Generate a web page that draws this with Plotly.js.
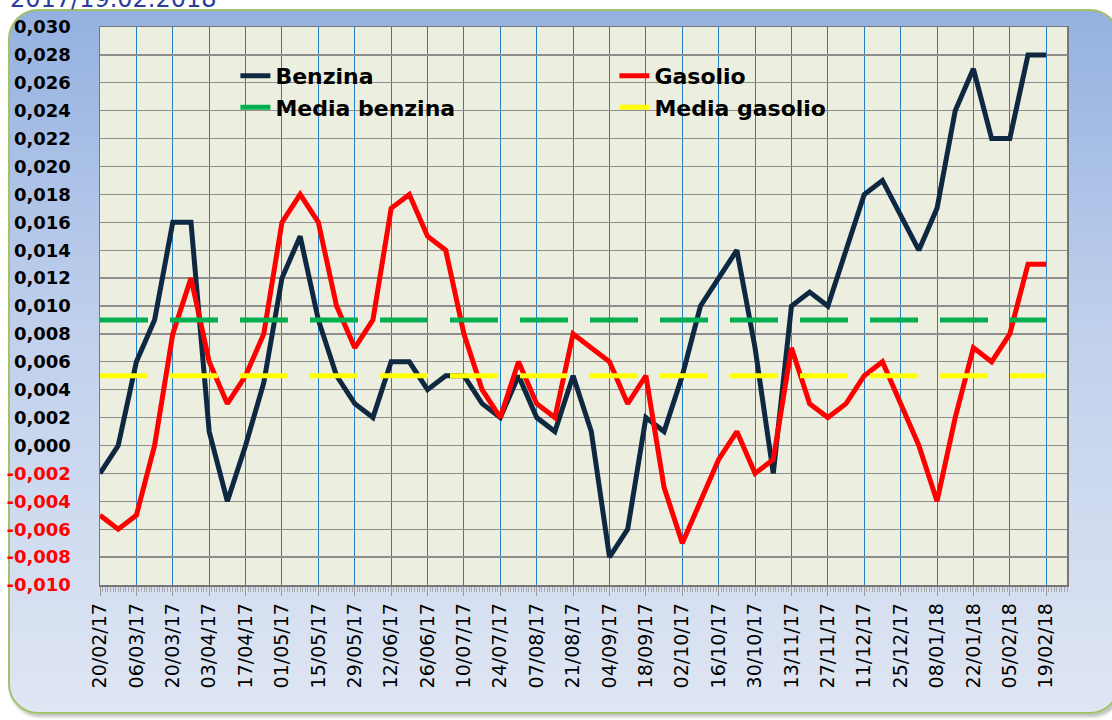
<!DOCTYPE html>
<html>
<head>
<meta charset="utf-8">
<script src="https://cdn.plot.ly/plotly-3.0.1.min.js"></script>
<style>
  html, body { margin: 0; padding: 0; background: #ffffff; width: 1112px; height: 720px; overflow: hidden; }
  #frame {
    position: absolute; left: 8px; top: 9px; width: 1112px; height: 705px;
    box-sizing: border-box;
    border: 2px solid #A3C06A; border-radius: 30px;
    background: linear-gradient(to bottom, #94B1E0 0%, #C0D0EC 45%, #DFE6F3 100%);
    box-shadow: 2px 3px 3px rgba(120,120,120,0.45);
  }
  #chart { position: absolute; left: 0; top: 0; width: 1112px; height: 720px; }
</style>
</head>
<body>
<div id="frame"></div>
<div id="chart"></div>
<script>
// ---- data ----
const dates = [
  '2017-02-20','2017-02-27','2017-03-06','2017-03-13','2017-03-20','2017-03-27',
  '2017-04-03','2017-04-10','2017-04-17','2017-04-24','2017-05-01','2017-05-08',
  '2017-05-15','2017-05-22','2017-05-29','2017-06-05','2017-06-12','2017-06-19',
  '2017-06-26','2017-07-03','2017-07-10','2017-07-17','2017-07-24','2017-07-31',
  '2017-08-07','2017-08-14','2017-08-21','2017-08-28','2017-09-04','2017-09-11',
  '2017-09-18','2017-09-25','2017-10-02','2017-10-09','2017-10-16','2017-10-23',
  '2017-10-30','2017-11-06','2017-11-13','2017-11-20','2017-11-27','2017-12-04',
  '2017-12-11','2017-12-18','2017-12-25','2018-01-01','2018-01-08','2018-01-15',
  '2018-01-22','2018-01-29','2018-02-05','2018-02-12','2018-02-19'
];
const benzina = [
  -0.002, 0.000, 0.006, 0.009, 0.016, 0.016, 0.001, -0.004, 0.000, 0.0045,
   0.012, 0.015, 0.009, 0.005, 0.003, 0.002, 0.006, 0.006, 0.004, 0.005,
   0.005, 0.003, 0.002, 0.005, 0.002, 0.001, 0.005, 0.001, -0.008, -0.006,
   0.002, 0.001, 0.005, 0.010, 0.012, 0.014, 0.007, -0.002, 0.010, 0.011,
   0.010, 0.014, 0.018, 0.019, 0.0165, 0.014, 0.017, 0.024, 0.027, 0.022,
   0.022, 0.028, 0.028
];
const gasolio = [
  -0.005, -0.006, -0.005, 0.000, 0.008, 0.012, 0.006, 0.003, 0.005, 0.008,
   0.016, 0.018, 0.016, 0.010, 0.007, 0.009, 0.017, 0.018, 0.015, 0.014,
   0.008, 0.004, 0.002, 0.006, 0.003, 0.002, 0.008, 0.007, 0.006, 0.003,
   0.005, -0.003, -0.007, -0.004, -0.001, 0.001, -0.002, -0.001, 0.007, 0.003,
   0.002, 0.003, 0.005, 0.006, 0.003, 0.000, -0.004, 0.002, 0.007, 0.006,
   0.008, 0.013, 0.013
];
const mediaBenzina = 0.009;
const mediaGasolio = 0.005;
const yTickVals = [-0.010,-0.008,-0.006,-0.004,-0.002,0.000,0.002,0.004,0.006,0.008,0.010,
                   0.012,0.014,0.016,0.018,0.020,0.022,0.024,0.026,0.028,0.030];
const yTickLabels = ['-0,010','-0,008','-0,006','-0,004','-0,002','0,000','0,002','0,004','0,006','0,008','0,010',
                     '0,012','0,014','0,016','0,018','0,020','0,022','0,024','0,026','0,028','0,030'];
const seriesNames = ['Benzina', 'Gasolio', 'Media benzina', 'Media gasolio'];
const headerText = '2017/19.02.2018';

// ---- build ----
const firstDate = dates[0], lastDate = dates[dates.length - 1];
const yTickText = yTickLabels.map((t, i) =>
  yTickVals[i] < 0 ? '<span style="color:#FF0000">' + t + '</span>' : t);

const traces = [
  { x: dates, y: benzina, name: seriesNames[0], type: 'scatter', mode: 'lines',
    line: { color: '#0E2841', width: 5 } },
  { x: dates, y: gasolio, name: seriesNames[1], type: 'scatter', mode: 'lines',
    line: { color: '#FF0000', width: 5 } },
  { x: [firstDate, lastDate], y: [mediaBenzina, mediaBenzina], name: seriesNames[2], type: 'scatter', mode: 'lines',
    line: { color: '#00B050', width: 5, dash: '48px,22px' } },
  { x: [firstDate, lastDate], y: [mediaGasolio, mediaGasolio], name: seriesNames[3], type: 'scatter', mode: 'lines',
    line: { color: '#FFFF00', width: 5, dash: '48px,22px' } }
];

const layout = {
  width: 1112, height: 720,
  margin: { l: 100, r: 45, t: 27, b: 135, pad: 0 },
  paper_bgcolor: 'rgba(0,0,0,0)',
  plot_bgcolor: '#ECEFDF',
  font: { family: 'DejaVu Sans, Verdana, sans-serif', color: '#000000' },
  showlegend: true,
  legend: {
    orientation: 'h', x: 0.14, y: 0.95, xanchor: 'left', yanchor: 'top',
    entrywidth: 334, entrywidthmode: 'pixels',
    bgcolor: 'rgba(0,0,0,0)', borderwidth: 0,
    font: { size: 22, weight: 'bold', color: '#000000' },
    traceorder: 'normal'
  },
  xaxis: {
    type: 'date',
    range: ['2017-02-20', '2018-02-27'],
    tick0: firstDate, dtick: 14 * 86400000,
    tickformat: '%d/%m/%y', tickangle: -90,
    tickfont: { size: 19, color: '#000000' },
    ticks: 'outside', ticklen: 9, tickcolor: '#9a9a9a', tickwidth: 1,
    minor: { dtick: 86400000, ticks: 'outside', ticklen: 5, tickcolor: '#a8a8a8', tickwidth: 1, showgrid: false },
    showgrid: true, gridcolor: '#1F80C8', gridwidth: 1,
    showline: true, linecolor: '#777777', linewidth: 1.5, mirror: true,
    zeroline: false, fixedrange: true
  },
  yaxis: {
    range: [-0.010, 0.030],
    tickmode: 'array', tickvals: yTickVals, ticktext: yTickText,
    tickfont: { size: 18, weight: 'bold', color: '#000000' },
    ticks: '', ticklabelstandoff: 24,
    showgrid: true, gridcolor: '#8E8E8E', gridwidth: 1.3,
    showline: true, linecolor: '#777777', linewidth: 1.5, mirror: true,
    zeroline: false, fixedrange: true
  },
  annotations: [{
    text: headerText, xref: 'paper', yref: 'paper',
    x: -0.095, y: 1.022, xanchor: 'left', yanchor: 'bottom',
    showarrow: false, font: { size: 24, color: '#2A3C9E' }
  }]
};

Plotly.newPlot('chart', traces, layout, { displayModeBar: false, staticPlot: true });
</script>
</body>
</html>
